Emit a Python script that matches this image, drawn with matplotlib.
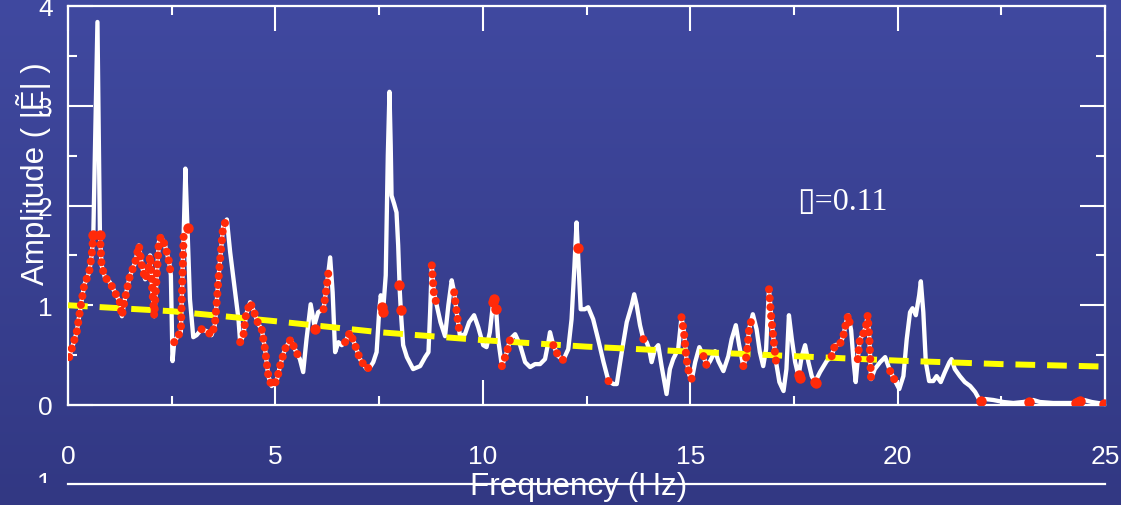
import numpy as np
import matplotlib
matplotlib.use('Agg')
import matplotlib.pyplot as plt
from matplotlib.patches import Rectangle
from matplotlib.lines import Line2D
from matplotlib.ticker import MultipleLocator

# spectrum (Hz, amplitude)
freq = [0.03, 0.21, 0.31, 0.39, 0.51, 0.57, 0.61, 0.71, 0.77, 0.81, 0.89, 1.01, 1.13, 1.25, 1.30, 1.37,
        1.49, 1.62, 1.71, 1.78, 1.86, 1.94, 1.98, 2.03, 2.08, 2.14, 2.19, 2.24, 2.34, 2.44, 2.48, 2.52,
        2.56, 2.66, 2.72, 2.76, 2.79, 2.83, 2.88, 2.94, 3.02, 3.10, 3.22, 3.34, 3.46, 3.54, 3.58, 3.64,
        3.69, 3.74, 3.83, 3.91, 4.00, 4.11, 4.15, 4.23, 4.29, 4.39, 4.47, 4.59, 4.67, 4.75, 4.83, 4.91,
        5.03, 5.11, 5.23, 5.37, 5.47, 5.59, 5.67, 5.75, 5.85, 5.94, 6.03, 6.16, 6.24, 6.28, 6.32, 6.38,
        6.44, 6.52, 6.60, 6.68, 6.80, 6.92, 7.04, 7.20, 7.30, 7.36, 7.44, 7.50, 7.54, 7.60, 7.66, 7.71,
        7.75, 7.78, 7.80, 7.86, 7.92, 7.96, 8.00, 8.03, 8.08, 8.17, 8.32, 8.49, 8.61, 8.69, 8.73, 8.77,
        8.82, 8.89, 8.98, 9.09, 9.17, 9.25, 9.31, 9.37, 9.45, 9.57, 9.67, 9.79, 9.89, 10.01, 10.09, 10.17,
        10.25, 10.32, 10.37, 10.46, 10.58, 10.66, 10.78, 10.90, 11.02, 11.14, 11.26, 11.38, 11.50, 11.58,
        11.62, 11.70, 11.82, 11.94, 12.06, 12.14, 12.21, 12.26, 12.31, 12.36, 12.46, 12.54, 12.66, 12.78,
        12.91, 13.03, 13.15, 13.23, 13.35, 13.47, 13.59, 13.65, 13.71, 13.79, 13.87, 13.95, 14.01, 14.07,
        14.15, 14.23, 14.31, 14.43, 14.51, 14.59, 14.71, 14.79, 14.85, 14.91, 14.98, 15.04, 15.12, 15.22,
        15.32, 15.40, 15.48, 15.60, 15.68, 15.80, 15.92, 16.00, 16.10, 16.18, 16.28, 16.36, 16.42, 16.51,
        16.60, 16.68, 16.76, 16.83, 16.87, 16.90, 16.95, 17.00, 17.07, 17.15, 17.25, 17.32, 17.38, 17.45,
        17.53, 17.61, 17.69, 17.77, 17.85, 17.93, 18.01, 18.13, 18.29, 18.41, 18.49, 18.61, 18.69, 18.76,
        18.81, 18.88, 18.94, 18.99, 19.04, 19.09, 19.17, 19.24, 19.28, 19.32, 19.36, 19.45, 19.58, 19.70,
        19.82, 19.94, 20.04, 20.14, 20.22, 20.30, 20.36, 20.44, 20.52, 20.56, 20.62, 20.68, 20.76, 20.86,
        20.94, 21.04, 21.14, 21.25, 21.30, 21.38, 21.50, 21.62, 21.75, 21.87, 21.99, 22.11, 22.31, 22.55,
        22.79, 23.03, 23.17, 23.27, 23.43, 23.75, 24.08, 24.32, 24.50, 24.68, 24.98]
amp = [0.48, 0.73, 1.00, 1.20, 1.33, 1.50, 1.70, 3.84, 1.70, 1.40, 1.28, 1.23, 1.13, 1.03, 0.89, 1.06,
       1.29, 1.43, 1.60, 1.40, 1.26, 1.36, 1.50, 1.16, 0.89, 1.30, 1.63, 1.69, 1.60, 1.43, 1.30, 0.44,
       0.63, 0.70, 0.73, 1.30, 1.73, 2.37, 1.77, 1.06, 0.68, 0.70, 0.76, 0.74, 0.70, 0.80, 1.00, 1.33,
       1.56, 1.79, 1.86, 1.53, 1.23, 0.86, 0.63, 0.70, 0.90, 1.03, 0.95, 0.81, 0.76, 0.56, 0.29, 0.19,
       0.24, 0.39, 0.56, 0.66, 0.56, 0.46, 0.33, 0.66, 1.01, 0.80, 0.93, 0.96, 1.20, 1.34, 1.48, 1.13,
       0.53, 0.63, 0.60, 0.63, 0.73, 0.60, 0.46, 0.36, 0.39, 0.43, 0.53, 0.93, 1.10, 0.96, 1.30, 2.50,
       3.14, 2.60, 2.10, 2.02, 1.93, 1.60, 1.13, 0.90, 0.60, 0.48, 0.36, 0.39, 0.48, 0.53, 0.93, 1.40,
       1.13, 1.00, 0.83, 0.69, 1.00, 1.25, 1.13, 0.93, 0.69, 0.71, 0.83, 0.90, 0.78, 0.60, 0.58, 0.73,
       1.03, 0.96, 0.66, 0.39, 0.53, 0.66, 0.71, 0.60, 0.43, 0.38, 0.41, 0.41, 0.46, 0.63,
       0.73, 0.60, 0.49, 0.45, 0.56, 0.86, 1.40, 1.83, 1.40, 0.96, 0.96, 0.98, 0.86, 0.66,
       0.43, 0.24, 0.21, 0.21, 0.53, 0.83, 1.00, 1.11, 1.00, 0.80, 0.66, 0.63, 0.56, 0.43,
       0.56, 0.60, 0.39, 0.11, 0.36, 0.46, 0.56, 0.88, 0.73, 0.46, 0.30, 0.26, 0.43, 0.58,
       0.49, 0.39, 0.44, 0.54, 0.44, 0.34, 0.49, 0.66, 0.80, 0.60, 0.39, 0.49, 0.76, 0.91,
       0.76, 0.53, 0.39, 0.56, 0.93, 1.16, 0.90, 0.69, 0.43, 0.23, 0.14, 0.36, 0.90, 0.66,
       0.43, 0.29, 0.49, 0.60, 0.43, 0.29, 0.23, 0.33, 0.44, 0.49, 0.60, 0.61, 0.69, 0.83,
       0.90, 0.75, 0.43, 0.23, 0.46, 0.66, 0.71, 0.80, 0.90, 0.66, 0.26, 0.36, 0.43, 0.48,
       0.34, 0.24, 0.16, 0.29, 0.66, 0.93, 0.97, 0.90, 1.10, 1.24, 0.93, 0.43, 0.24, 0.24,
       0.29, 0.23, 0.33, 0.43, 0.46, 0.36, 0.29, 0.23, 0.19, 0.13, 0.04, 0.06, 0.05, 0.03,
       0.02, 0.03, 0.04, 0.05, 0.03, 0.02, 0.02, 0.02, 0.05, 0.03, 0.01]

# stretches of the spectrum that carry the red dots
red_bands = [(0.0, 0.62), (0.76, 2.49), (2.55, 2.8), (3.2, 3.84), (4.14, 5.6), (6.15, 6.29),
             (6.66, 7.31), (8.76, 8.92), (9.3, 9.47), (10.45, 10.67), (11.69, 11.95), (13.02, 13.2),
             (13.86, 13.96), (14.78, 15.05), (15.3, 15.42), (16.27, 16.52), (16.89, 17.12),
             (18.35, 18.9), (19.0, 19.37), (19.8, 19.95)]

# single red dots
dot_freq = [0.61, 0.77, 2.90, 5.96, 7.57, 7.60, 7.99, 8.02, 10.25, 10.28, 10.32, 12.30,
            17.62, 17.64, 18.00, 18.03, 22.02, 23.17, 24.30, 24.36, 24.40, 24.97]
dot_amp = [1.70, 1.70, 1.77, 0.76, 0.98, 0.93, 1.20, 0.95, 1.03, 1.06, 0.96, 1.57,
           0.30, 0.27, 0.23, 0.22, 0.04, 0.03, 0.02, 0.03, 0.04, 0.01]

# yellow dashed reference
ref_freq = [0, 2.5, 5, 7.5, 10, 12.5, 15, 17.5, 20, 22.5, 25]
ref_amp = [1.0, 0.94, 0.84, 0.73, 0.65, 0.585, 0.535, 0.49, 0.445, 0.41, 0.385]

x_ticks = [0, 5, 10, 15, 20, 25]
y_ticks = [0, 1, 2, 3, 4]

W, H = 1121, 506
plt.rcParams['font.family'] = 'Liberation Sans'

fig = plt.figure(figsize=(W / 100, H / 100), dpi=100)

# background gradient
bg = fig.add_axes([0, 0, 1, 1], zorder=-10)
grad = np.linspace(0, 1, 256)[:, None]
top = np.array([64, 73, 160]) / 255
bot = np.array([50, 56, 131]) / 255
img = top[None, None, :] * (1 - grad[..., None]) + bot[None, None, :] * grad[..., None]
bg.imshow(img, aspect='auto', extent=[0, 1, 0, 1])
bg.axis('off')

ax = fig.add_axes([68 / W, 100 / H, (1105 - 68) / W, (406 - 7) / H])
ax.set_facecolor('none')

f = np.array(freq)
a = np.array(amp)
red = np.full_like(a, np.nan)
for lo, hi in red_bands:
    m = (f >= lo) & (f <= hi)
    red[m] = a[m]

ax.plot(f, a, color='white', lw=3.1, solid_joinstyle='round', zorder=3)
ax.plot(ref_freq, ref_amp, color='#ffff00', lw=4.3, linestyle=(0, (3.3, 2.0)), zorder=4)
ax.plot(f, red, color='#ff2a0a', lw=5.8, linestyle=(0, (0.01, 1.1)),
        dash_capstyle='round', zorder=5)
ax.plot(dot_freq, dot_amp, 'o', color='#ff2a0a', ms=7.5, mew=0, zorder=5)

ax.set_xlim(0, 25)
ax.set_ylim(0, 4)
ax.set_xticks(x_ticks)
ax.set_yticks(y_ticks)
ax.xaxis.set_minor_locator(MultipleLocator(2.5))
ax.yaxis.set_minor_locator(MultipleLocator(0.5))
ax.tick_params(which='both', direction='in', top=True, right=True, color='white', width=1.5,
               labelcolor='white', labelsize=19)
ax.tick_params(which='major', length=18)
ax.tick_params(which='minor', length=6.5)
ax.tick_params(axis='x', pad=28)
ax.tick_params(axis='y', pad=11)
for s in ax.spines.values():
    s.set_color('white')
    s.set_linewidth(1.6)

fig.text(34 / W, 1 - 174 / H, 'Amplitude ( |Ẽ| )', rotation=90, color='white', fontsize=22.5,
         ha='center', va='center')
fig.text(579 / W, 1 - 487 / H, 'Frequency (Hz)', color='white', fontsize=22.7,
         ha='center', va='center')
fig.text(797 / W, 1 - 202 / H, '\u25af=0.11', color='white', fontsize=23,
         family=['Liberation Serif', 'DejaVu Sans'], ha='left', va='center')

# stray line and clipped label at the very bottom
fig.add_artist(Line2D([68 / W, 1105 / W], [1 - 485 / H, 1 - 485 / H], color='white', lw=1.6,
                      transform=fig.transFigure))
one = fig.text(44 / W, 1 - 472 / H, '1', color='white', fontsize=19, ha='center', va='top')
clip = Rectangle((0, 1 - 484 / H), 1, 14 / H, transform=fig.transFigure)
one.set_clip_path(clip)

fig.savefig('out.png', dpi=100)
